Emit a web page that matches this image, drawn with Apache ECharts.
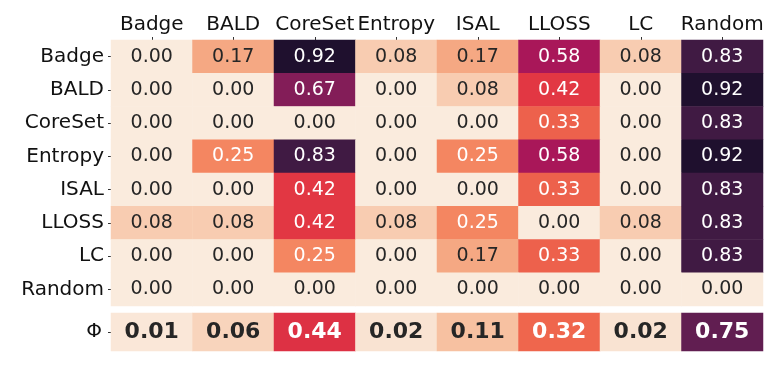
<!DOCTYPE html>
<html>
<head>
<meta charset="utf-8">
<script src="https://cdn.jsdelivr.net/npm/echarts@6/dist/echarts.min.js"></script>
<style>html,body{margin:0;padding:0;background:#fff;}#c{width:778px;height:370px;}</style>
</head>
<body>
<div id="c"></div>
<script>
const methods = ['Badge','BALD','CoreSet','Entropy','ISAL','LLOSS','LC','Random'];
const rowBadge   = [0.00,0.17,0.92,0.08,0.17,0.58,0.08,0.83];
const rowBALD    = [0.00,0.00,0.67,0.00,0.08,0.42,0.00,0.92];
const rowCoreSet = [0.00,0.00,0.00,0.00,0.00,0.33,0.00,0.83];
const rowEntropy = [0.00,0.25,0.83,0.00,0.25,0.58,0.00,0.92];
const rowISAL    = [0.00,0.00,0.42,0.00,0.00,0.33,0.00,0.83];
const rowLLOSS   = [0.08,0.08,0.42,0.08,0.25,0.00,0.08,0.83];
const rowLC      = [0.00,0.00,0.25,0.00,0.17,0.33,0.00,0.83];
const rowRandom  = [0.00,0.00,0.00,0.00,0.00,0.00,0.00,0.00];
const phiLabel = ['Φ'];
const phiValues = [0.01,0.06,0.44,0.02,0.11,0.32,0.02,0.75];

const rows = [rowBadge,rowBALD,rowCoreSet,rowEntropy,rowISAL,rowLLOSS,rowLC,rowRandom];
const rocketR = ['#faebdd','#f6b48f','#f37651','#e13342','#ad1759','#701f57','#35193e','#03051a'];
const FONT = 'DejaVu Sans';
function txtColor(v){ return v >= 0.22 ? '#ffffff' : '#262626'; }

const mainData = [];
rows.forEach((r, yi) => r.forEach((v, xi) => {
  mainData.push({ value: [xi, yi, v], label: { color: txtColor(v) } });
}));
const phiData = phiValues.map((v, xi) => ({ value: [xi, 0, v], label: { color: txtColor(v) } }));

const chart = echarts.init(document.getElementById('c'), null, { renderer: 'canvas' });
chart.setOption({
  animation: false,
  backgroundColor: '#ffffff',
  grid: [
    { left: 111, top: 40, width: 652, height: 266 },
    { left: 111, top: 313, width: 652, height: 38 }
  ],
  xAxis: [
    { type: 'category', data: methods, gridIndex: 0, position: 'top',
      axisLine: { show: false }, splitLine: { show: false },
      axisTick: { show: true, alignWithLabel: true, length: 3, lineStyle: { color: '#333' } },
      axisLabel: { interval: 0, fontFamily: FONT, fontSize: 20, color: '#111', margin: 5 } },
    { type: 'category', data: methods, gridIndex: 1, show: false }
  ],
  yAxis: [
    { type: 'category', data: methods, gridIndex: 0, inverse: true,
      axisLine: { show: false }, splitLine: { show: false },
      axisTick: { show: true, alignWithLabel: true, length: 3, lineStyle: { color: '#333' } },
      axisLabel: { interval: 0, fontFamily: FONT, fontSize: 20, color: '#111', margin: 7 } },
    { type: 'category', data: phiLabel, gridIndex: 1,
      axisLine: { show: false }, splitLine: { show: false },
      axisTick: { show: true, alignWithLabel: true, length: 3, lineStyle: { color: '#333' } },
      axisLabel: { fontFamily: FONT, fontSize: 20, color: '#111', margin: 9 } }
  ],
  visualMap: {
    show: false, type: 'continuous', min: 0, max: 1, dimension: 2,
    seriesIndex: [0, 1], inRange: { color: rocketR }
  },
  series: [
    { type: 'heatmap', xAxisIndex: 0, yAxisIndex: 0, data: mainData,
      itemStyle: { borderWidth: 0 },
      label: { show: true, fontFamily: FONT, fontSize: 19,
        formatter: p => p.value[2].toFixed(2) },
      emphasis: { disabled: true } },
    { type: 'heatmap', xAxisIndex: 1, yAxisIndex: 1, data: phiData,
      itemStyle: { borderWidth: 0 },
      label: { show: true, fontFamily: FONT, fontSize: 22, fontWeight: 'bold',
        formatter: p => p.value[2].toFixed(2) },
      emphasis: { disabled: true } }
  ]
});
</script>
</body>
</html>
